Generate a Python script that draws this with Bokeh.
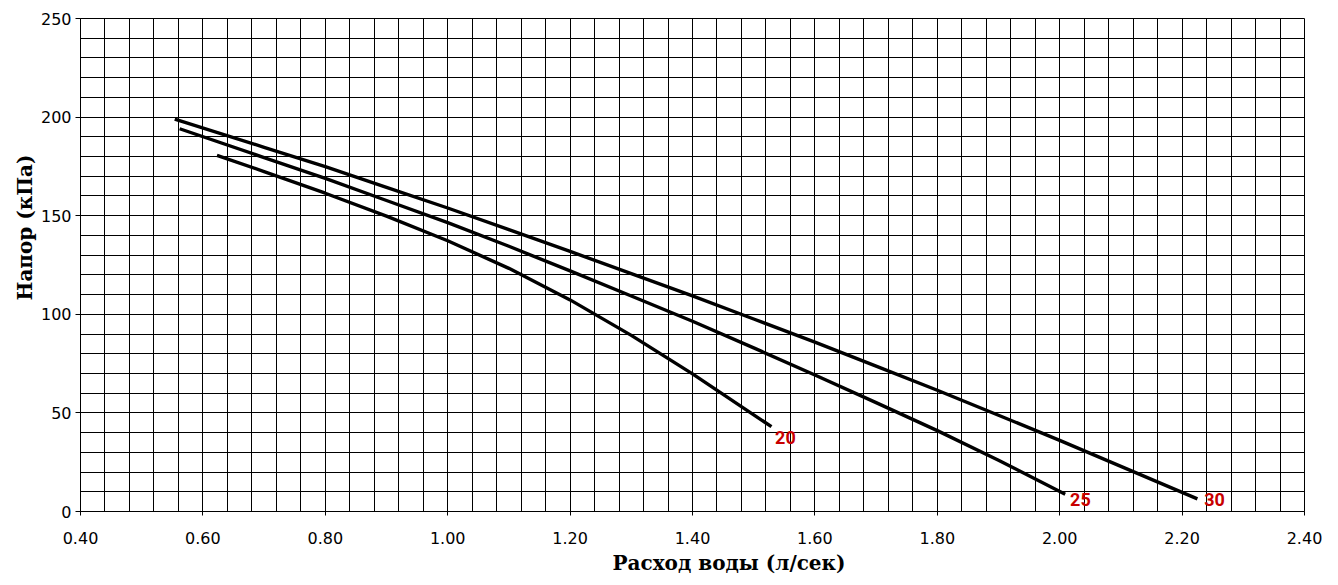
import math
from bokeh.plotting import figure
from bokeh.models import Range1d, FixedTicker, NumeralTickFormatter, Title, ColumnDataSource
from bokeh.core.properties import value
from bokeh.embed import file_html
from bokeh.resources import INLINE

# ---- data ----
q20 = [0.623, 0.70, 0.80, 0.90, 1.00, 1.10, 1.20, 1.30, 1.40, 1.529]
h20 = [180.6, 172.4, 161.4, 149.8, 137.3, 123.3, 107.3, 89.3, 69.8, 43.0]

q25 = [0.562, 0.70, 0.80, 0.90, 1.00, 1.10, 1.20, 1.30, 1.40, 1.50, 1.60, 1.70, 1.80, 1.90, 2.009]
h25 = [194.1, 179.5, 168.9, 157.7, 146.5, 134.5, 122.0, 109.3, 96.5, 83.0, 69.2, 55.2, 41.0, 26.0, 8.8]

q30 = [0.554, 0.70, 0.80, 0.90, 1.00, 1.10, 1.20, 1.30, 1.40, 1.50, 1.60, 1.70, 1.80, 1.90, 2.00, 2.10, 2.225]
h30 = [199.0, 184.7, 174.9, 164.4, 153.9, 142.9, 131.9, 120.6, 109.3, 97.6, 85.9, 73.7, 61.5, 48.8, 36.1, 22.9, 6.4]

label_text = ["20", "25", "30"]
label_x = [1.535, 2.017, 2.236]
label_y = [37.7, 6.1, 6.1]

x_ticks = [0.40, 0.60, 0.80, 1.00, 1.20, 1.40, 1.60, 1.80, 2.00, 2.20, 2.40]
y_ticks = [0, 50, 100, 150, 200, 250]

x_title = "Расход воды (л/сек)"
y_title = "Напор (кПа)"

x_minor = [round(0.40 + 0.04 * i, 2) for i in range(51)]
y_minor = [10 * i for i in range(26)]

p = figure(width=1338, height=585, output_backend="svg", toolbar_location=None,
           x_range=Range1d(0.4, 2.4), y_range=Range1d(0, 250))
p.min_border_left = 80
p.min_border_right = 34
p.min_border_top = 18
p.min_border_bottom = 74
p.background_fill_color = "white"
p.border_fill_color = "white"
p.outline_line_color = "black"
p.outline_line_width = 1

p.xaxis.ticker = FixedTicker(ticks=x_ticks, minor_ticks=x_minor)
p.yaxis.ticker = FixedTicker(ticks=y_ticks, minor_ticks=y_minor)
p.xgrid.ticker = p.xaxis.ticker
p.ygrid.ticker = p.yaxis.ticker
p.xaxis.formatter = NumeralTickFormatter(format="0.00")

for g in (p.xgrid, p.ygrid):
    g.grid_line_color = "black"
    g.grid_line_width = 1
    g.grid_line_alpha = 1
    g.minor_grid_line_color = "black"
    g.minor_grid_line_width = 1

for ax in (p.xaxis, p.yaxis):
    ax.axis_line_color = "black"
    ax.axis_line_width = 1
    ax.major_tick_line_color = "black"
    ax.major_tick_in = 0
    ax.minor_tick_line_color = None
    ax.major_label_text_font = "DejaVu Sans"
    ax.major_label_text_font_size = "16px"
    ax.major_label_text_color = "black"
p.yaxis.major_tick_out = 5
p.xaxis.major_tick_out = 4
p.xaxis.major_label_standoff = 16
p.yaxis.major_label_standoff = 4

for q, h in ((q20, h20), (q25, h25), (q30, h30)):
    p.line(q, h, line_color="black", line_width=3.4)

src = ColumnDataSource(dict(x=label_x, y=label_y, t=label_text))
p.text("x", "y", text="t", source=src, text_color="#C80000",
       text_font=value("Roboto"), text_font_style="bold", text_font_size="18px",
       text_align="left", text_baseline="alphabetic")

# axis titles as side titles, shifted like in the reference
p.add_layout(Title(text=x_title, align="left", offset=532, standoff=4,
                   text_font="DejaVu Serif", text_font_style="bold", text_font_size="20px",
                   text_color="black"), "below")
p.add_layout(Title(text=y_title, align="left", offset=211, standoff=2,
                   text_font="DejaVu Serif", text_font_style="bold", text_font_size="20px",
                   text_color="black"), "left")

open("out.html", "w").write(file_html(p, INLINE))
